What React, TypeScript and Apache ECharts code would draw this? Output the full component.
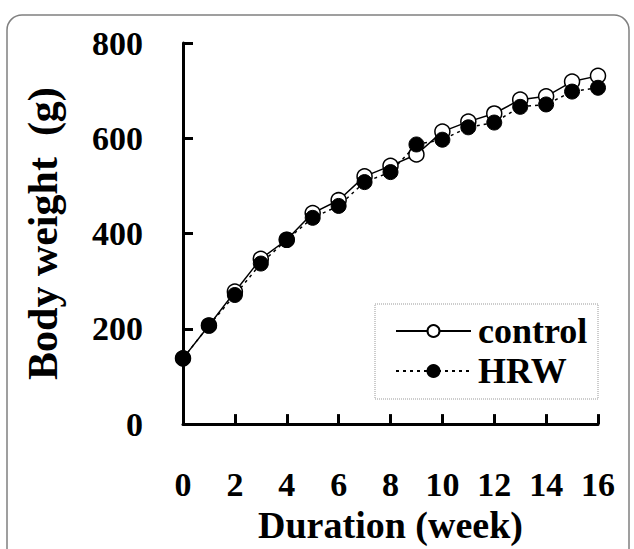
import React, { useEffect, useRef } from "react";
import * as echarts from "echarts";

const weeks = [0, 1, 2, 3, 4, 5, 6, 7, 8, 9, 10, 11, 12, 13, 14, 15, 16];
const controlWeights = [138, 207, 278, 347, 387, 443, 470, 520, 542, 566, 614, 635, 652, 681, 688, 719, 731];
const hrwWeights = [138, 207, 271, 337, 387, 433, 458, 508, 529, 587, 597, 623, 633, 666, 671, 698, 706];
const xTicks = [0, 2, 4, 6, 8, 10, 12, 14, 16];
const yTicks = [0, 200, 400, 600, 800];
const seriesNames = ["control", "HRW"];

const FONT = "'Liberation Serif', 'Times New Roman', serif";

export default function App() {
  const ref = useRef<HTMLDivElement>(null);
  useEffect(() => {
    if (!ref.current) return;
    const chart = echarts.init(ref.current, null, { renderer: "svg" });
    const toPairs = (vals: number[]) => weeks.map((w, i) => [w, vals[i]]);
    chart.setOption({
      animation: false,
      backgroundColor: "#ffffff",
      grid: { left: 183, right: 36, top: 43, bottom: 117, containLabel: false },
      xAxis: {
        type: "value",
        min: xTicks[0],
        max: xTicks[xTicks.length - 1],
        interval: 2,
        name: "Duration (week)",
        nameLocation: "middle",
        nameGap: 80,
        nameTextStyle: { fontFamily: FONT, fontWeight: "bold", fontSize: 38, color: "#000" },
        axisLine: { lineStyle: { color: "#000", width: 3 } },
        axisTick: { inside: true, length: 10, lineStyle: { color: "#000", width: 3 } },
        axisLabel: {
          margin: 43,
          fontFamily: FONT,
          fontWeight: "bold",
          fontSize: 34,
          color: "#000",
          formatter: (v: number) => (xTicks.includes(v) ? String(v) : ""),
        },
        splitLine: { show: false },
      },
      yAxis: {
        type: "value",
        min: yTicks[0],
        max: yTicks[yTicks.length - 1],
        interval: 200,
        name: "Body weight  (g)",
        nameLocation: "middle",
        nameGap: 119,
        nameTextStyle: { fontFamily: FONT, fontWeight: "bold", fontSize: 42, color: "#000" },
        axisLine: { show: true, lineStyle: { color: "#000", width: 3 } },
        axisTick: { show: true, inside: true, length: 10, lineStyle: { color: "#000", width: 3 } },
        axisLabel: {
          margin: 40,
          fontFamily: FONT,
          fontWeight: "bold",
          fontSize: 34,
          color: "#000",
        },
        splitLine: { show: false },
      },
      legend: {
        orient: "vertical",
        left: 395,
        top: 313,
        itemWidth: 75,
        itemHeight: 15,
        itemGap: 4,
        padding: 0,
        textStyle: { fontFamily: FONT, fontWeight: "bold", fontSize: 36, color: "#000", lineHeight: 36, padding: [0, 0, 0, 2] },
        data: seriesNames,
      },
      graphic: [
        {
          type: "rect",
          shape: { x: 7, y: 15, width: 622, height: 600, r: 15 },
          style: { fill: "none", stroke: "#808080", lineWidth: 1.5 },
          silent: true,
          z: -1,
        },
        {
          type: "rect",
          shape: { x: 375, y: 304, width: 223, height: 95 },
          style: { fill: "none", stroke: "#999", lineWidth: 1, lineDash: [1, 1] },
          silent: true,
        },
      ],
      series: [
        {
          name: seriesNames[0],
          type: "line",
          data: toPairs(controlWeights),
          symbol: "circle",
          symbolSize: 15,
          lineStyle: { color: "#000", width: 1.5, type: "solid" },
          itemStyle: { color: "#fff", borderColor: "#000", borderWidth: 1.5 },
          z: 2,
        },
        {
          name: seriesNames[1],
          type: "line",
          data: toPairs(hrwWeights),
          symbol: "circle",
          symbolSize: 15,
          lineStyle: { color: "#000", width: 1.5, type: [3, 4] },
          itemStyle: { color: "#000", borderColor: "#000", borderWidth: 1 },
          z: 3,
        },
      ],
    });
    return () => chart.dispose();
  }, []);
  return (
    <div
      ref={ref}
      style={{ position: "fixed", left: 0, top: 0, width: 634, height: 549, background: "#fff" }}
    />
  );
}
